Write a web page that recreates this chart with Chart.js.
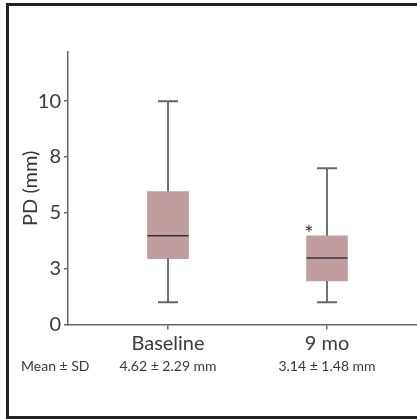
<!DOCTYPE html>
<html>
<head>
<meta charset="utf-8">
<script src="https://cdn.jsdelivr.net/npm/chart.js@4/dist/chart.umd.min.js"></script>
<style>
  html, body { margin: 0; padding: 0; background: #fff; }
  #wrap { position: relative; width: 417px; height: 419px; overflow: hidden; }
  #frame { position: absolute; left: 6px; top: 3px; width: 430px; height: 410px;
           border: 3px solid #222; pointer-events: none; }
</style>
</head>
<body>
<div id="wrap">
  <canvas id="chart" width="417" height="419"></canvas>
  <div id="frame"></div>
</div>
<script>
const categories = ['Baseline', '9 mo'];
const meanSd = ['4.62 \u00b1 2.29 mm', '3.14 \u00b1 1.48 mm'];
const whiskerLow = [1, 1];
const q1 = [2.95, 1.95];
const median = [3.97, 2.98];
const q3 = [5.95, 3.97];
const whiskerHigh = [10, 7];
const outliers = [null, 4.28];
const yTicks = [0, 2.5, 5, 7.5, 10];

const textColor = '#3a3a3a';
const axisColor = '#666';
const boxColor = '#c19da0';

const positions = categories.map((_, i) => i + 1);

// whiskers, caps, median line and the outlier star
const boxExtras = {
  id: 'boxExtras',
  afterDatasetsDraw(chart) {
    const ctx = chart.ctx;
    const x = chart.scales.x;
    const y = chart.scales.y;
    ctx.save();
    positions.forEach((p, i) => {
      const cx = x.getPixelForValue(p);
      const yLo = y.getPixelForValue(whiskerLow[i]);
      const yHi = y.getPixelForValue(whiskerHigh[i]);
      const yQ1 = y.getPixelForValue(q1[i]);
      const yQ3 = y.getPixelForValue(q3[i]);
      const yMed = y.getPixelForValue(median[i]);

      ctx.strokeStyle = '#444';
      ctx.lineWidth = 1.5;
      ctx.beginPath();
      ctx.moveTo(cx, yQ3); ctx.lineTo(cx, yHi);
      ctx.moveTo(cx, yQ1); ctx.lineTo(cx, yLo);
      ctx.stroke();

      ctx.strokeStyle = axisColor;
      ctx.lineWidth = 2;
      ctx.beginPath();
      ctx.moveTo(cx - 10, yHi); ctx.lineTo(cx + 10, yHi);
      ctx.moveTo(cx - 10, yLo); ctx.lineTo(cx + 10, yLo);
      ctx.stroke();

      ctx.strokeStyle = '#333';
      ctx.lineWidth = 1.5;
      ctx.beginPath();
      ctx.moveTo(cx - 20.5, yMed); ctx.lineTo(cx + 20.5, yMed);
      ctx.stroke();

      if (outliers[i] != null) {
        ctx.fillStyle = '#333';
        ctx.font = '22px Lato';
        ctx.textAlign = 'center';
        ctx.textBaseline = 'middle';
        ctx.fillText('*', cx - 18, y.getPixelForValue(outliers[i]) + 5);
      }
    });

    ctx.fillStyle = textColor;
    ctx.font = '14px Lato';
    ctx.textAlign = 'left';
    ctx.textBaseline = 'middle';
    ctx.fillText('Mean \u00b1 SD', 21, 366);
    ctx.restore();
  }
};

const setTicks = scale => { scale.ticks = positions.map(v => ({ value: v })); };

new Chart(document.getElementById('chart').getContext('2d'), {
  type: 'bar',
  data: {
    datasets: [{
      data: positions.map((p, i) => ({ x: p, y: [q1[i], q3[i]] })),
      backgroundColor: boxColor,
      borderWidth: 0,
      barThickness: 41,
      grouped: false
    }]
  },
  options: {
    responsive: false,
    animation: false,
    layout: { padding: { top: 52, left: 0, right: 0, bottom: 0 } },
    plugins: { legend: { display: false }, tooltip: { enabled: false } },
    scales: {
      x: {
        type: 'linear',
        offset: false,
        min: 0.371,
        max: 2.566,
        afterBuildTicks: setTicks,
        afterFit: s => { s.height = 30; },
        grid: { offset: false, drawOnChartArea: false, drawTicks: true, tickLength: 5, color: axisColor, lineWidth: 1.5 },
        border: { color: axisColor, width: 1.5 },
        ticks: {
          color: textColor,
          font: { family: 'Lato', size: 20 },
          padding: 2,
          maxRotation: 0,
          callback: v => categories[v - 1]
        }
      },
      x2: {
        type: 'linear',
        position: 'bottom',
        offset: false,
        min: 0.371,
        max: 2.566,
        afterBuildTicks: setTicks,
        afterFit: s => { s.height = 64.5; },
        grid: { display: false, offset: false },
        border: { display: false },
        ticks: {
          color: textColor,
          font: { family: 'Lato', size: 14 },
          padding: -4,
          maxRotation: 0,
          callback: v => meanSd[v - 1]
        }
      },
      y: {
        min: 0,
        max: 12.2,
        afterBuildTicks: s => { s.ticks = yTicks.map(v => ({ value: v })); },
        afterFit: s => { s.width = 68; },
        grid: { drawOnChartArea: false, drawTicks: true, tickLength: 4, color: axisColor, lineWidth: 1.5 },
        border: { color: axisColor, width: 1.5 },
        title: {
          display: true,
          text: 'PD (mm)',
          color: textColor,
          font: { family: 'Lato', size: 20 },
          padding: { top: 19, bottom: 0 }
        },
        ticks: {
          color: textColor,
          font: { family: 'Lato', size: 20 },
          padding: 3,
          callback: v => String(Math.round(v))
        }
      }
    }
  },
  plugins: [boxExtras]
});
</script>
</body>
</html>
